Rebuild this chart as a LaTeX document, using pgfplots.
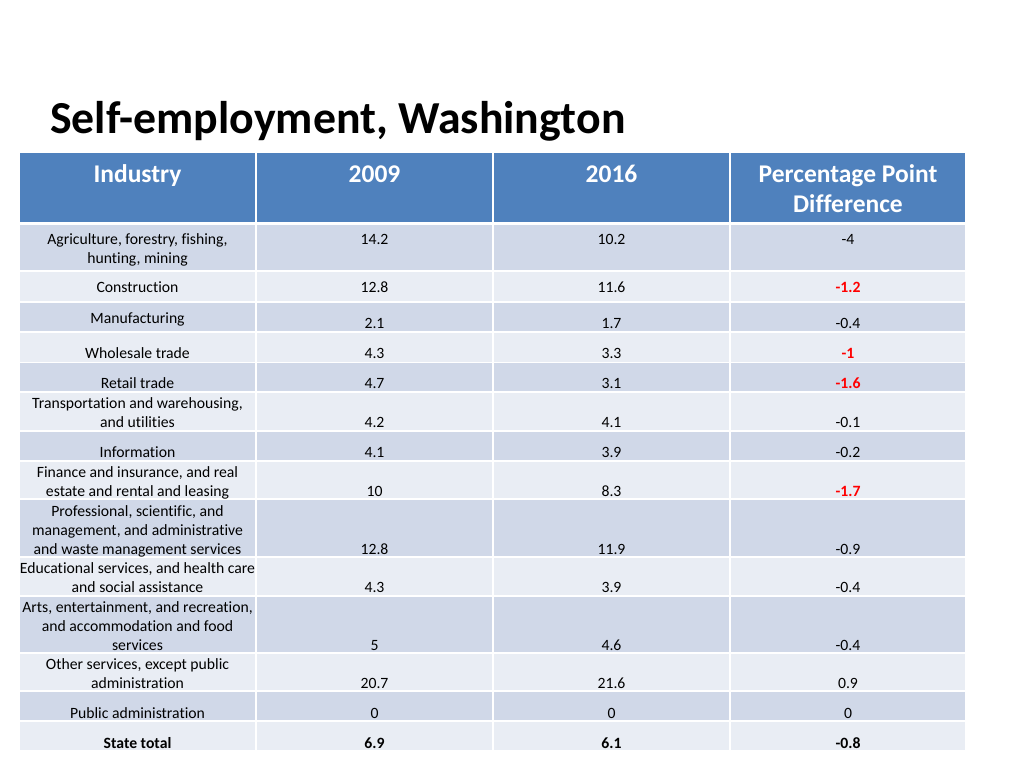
\documentclass[border=0pt]{standalone}
\usepackage{pgfplots}
\pgfplotsset{compat=1.18}
\usepackage{pgfplotstable}
\usepackage{fontspec}
\setmainfont{Carlito}[Ligatures=NoCommon]

\definecolor{hdrblue}{HTML}{4F81BD}
\definecolor{rowdark}{HTML}{D0D8E8}
\definecolor{rowlight}{HTML}{E9EDF4}

\newcommand\cell{\fontsize{15.7pt}{18.6pt}\selectfont}
\newcommand\hdr{\fontsize{25.5pt}{30pt}\selectfont\bfseries}
\newcommand\ttl{\fontsize{45.8pt}{54pt}\selectfont\bfseries}

% y = text baseline, in pixels from the top of the slide
\pgfplotstableread[col sep=semicolon]{
y;label
244;Agriculture, forestry, fishing,
263;hunting, mining
292;Construction
323;Manufacturing
358;Wholesale trade
388;Retail trade
408;Transportation and warehousing,
427;and utilities
457;Information
477;Finance and insurance, and real
496;estate and rental and leasing
516;Professional, scientific, and
535;management, and administrative
554;and waste management services
573;Educational services, and health care
592;and social assistance
612;Arts, entertainment, and recreation,
631;and accommodation and food
650;services
669;Other services, except public
688;administration
718;Public administration
}\industry

\pgfplotstableread{
y    a     b
244  14.2  10.2
292  12.8  11.6
328  2.1   1.7
358  4.3   3.3
388  4.7   3.1
427  4.2   4.1
457  4.1   3.9
496  10    8.3
554  12.8  11.9
592  4.3   3.9
650  5     4.6
688  20.7  21.6
718  0     0
}\years

\pgfplotstableread{
y    d
244  -4
328  -0.4
427  -0.1
457  -0.2
554  -0.9
592  -0.4
650  -0.4
688  0.9
718  0
}\diffs

% larger drops, shown in red
\pgfplotstableread{
y    d
292  -1.2
358  -1
388  -1.6
496  -1.7
}\drops

\pgfplotstableread{
y    label        a    b    d
748  {State total} 6.9  6.1  -0.8
}\total

\begin{document}
\begin{tikzpicture}
\useasboundingbox[fill=white] (0,0) rectangle (1024pt,768pt);

% table cells
\begin{scope}[x=1pt,y=-1pt,shift={(0pt,768pt)}]
  \fill[hdrblue] (20,153) rectangle (965,222);
  \foreach \t/\b/\c in {225/270/rowdark, 272/301/rowlight, 303/331/rowdark,
      333/362/rowlight, 363/391/rowdark, 393/430/rowlight, 432/460/rowdark,
      462/498/rowlight, 500/556/rowdark, 558/595/rowlight, 597/652/rowdark,
      654/690/rowlight, 692/720/rowdark, 722/750/rowlight}
    \fill[\c] (20,\t) rectangle (965,\b);
  \foreach \g in {255,492,729}
    \fill[white] (\g,150) rectangle (\g+2,752);
\end{scope}

\begin{axis}[
    at={(0,0)}, anchor=south west,
    width=1024pt, height=768pt, scale only axis,
    xmin=0, xmax=1024, ymin=0, ymax=768, y dir=reverse,
    hide axis, clip=false,
    point meta=explicit symbolic,
    nodes near coords,
    nodes near coords align={anchor=base},
    every node near coord/.append style={anchor=base, inner sep=0pt, font=\cell},
  ]
  \node[anchor=base west, inner sep=0pt, font=\ttl] at (axis cs:50,133) {Self-employment, Washington};
  \node[anchor=base, inner sep=0pt, font=\hdr, text=white] at (axis cs:137.5,182) {Industry};
  \node[anchor=base, inner sep=0pt, font=\hdr, text=white] at (axis cs:374.5,182) {2009};
  \node[anchor=base, inner sep=0pt, font=\hdr, text=white] at (axis cs:611.5,182) {2016};
  \node[anchor=base, inner sep=0pt, font=\hdr, text=white] at (axis cs:848,182) {Percentage Point};
  \node[anchor=base, inner sep=0pt, font=\hdr, text=white] at (axis cs:848,212) {Difference};

  \addplot[draw=none, mark=none] table[x expr=137.5, y=y, meta=label] {\industry};
  \addplot[draw=none, mark=none] table[x expr=374.5, y=y, meta=a] {\years};
  \addplot[draw=none, mark=none] table[x expr=611.5, y=y, meta=b] {\years};
  \addplot[draw=none, mark=none] table[x expr=848, y=y, meta=d] {\diffs};
  \addplot[draw=none, mark=none,
    every node near coord/.append style={text=red, font=\cell\bfseries}]
    table[x expr=848, y=y, meta=d] {\drops};

  \addplot[draw=none, mark=none, every node near coord/.append style={font=\cell\bfseries}]
    table[x expr=137.5, y=y, meta=label] {\total};
  \addplot[draw=none, mark=none, every node near coord/.append style={font=\cell\bfseries}]
    table[x expr=374.5, y=y, meta=a] {\total};
  \addplot[draw=none, mark=none, every node near coord/.append style={font=\cell\bfseries}]
    table[x expr=611.5, y=y, meta=b] {\total};
  \addplot[draw=none, mark=none, every node near coord/.append style={font=\cell\bfseries}]
    table[x expr=848, y=y, meta=d] {\total};
\end{axis}
\end{tikzpicture}
\end{document}
